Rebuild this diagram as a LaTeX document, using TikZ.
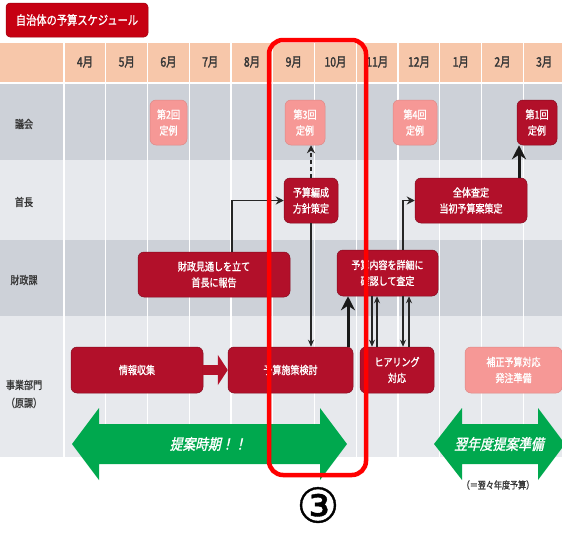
\documentclass[tikz,border=0pt]{standalone}
\usepackage{fontspec}
\newfontfamily\jp{Noto Sans CJK JP}[FakeStretch=0.82]
\newfontfamily\jpb{Noto Sans CJK JP}[FakeStretch=0.82,FakeBold=1.2]
\newfontfamily\jpm{Noto Sans CJK JP}[FakeStretch=0.8,FakeBold=2]
\newfontfamily\jpi{Noto Sans CJK JP}[FakeStretch=0.85,FakeSlant=0.22,FakeBold=1.4]
\newfontfamily\symf{DejaVu Sans}[FakeBold=0.8]
\usetikzlibrary{arrows.meta,calc}

\definecolor{boxred}{RGB}{178,16,42}
\definecolor{palered}{RGB}{246,152,150}
\definecolor{titlered}{RGB}{198,0,18}
\definecolor{peach}{RGB}{247,199,170}
\definecolor{rowdark}{RGB}{205,209,216}
\definecolor{rowlight}{RGB}{231,233,237}
\definecolor{arrowgreen}{RGB}{0,168,78}
\definecolor{labelgray}{RGB}{55,55,55}
\definecolor{markred}{RGB}{255,0,0}

\tikzset{
  task/.style={rounded corners=6pt, fill=boxred, draw=boxred!75!black,
    line width=0.5pt, text=white, align=center, inner sep=0pt,
    font=\jpb\fontsize{11}{16}\selectfont},
  pale/.style={task, fill=palered, draw=palered!90!black},
  month/.style={text=labelgray, font=\jpm\fontsize{13}{13}\selectfont, inner sep=0pt},
  rowlabel/.style={text=labelgray, font=\jpb\fontsize{11}{18}\selectfont, align=center, inner sep=0pt},
  conn/.style={draw=black!85, line width=1.6pt, -{Stealth[length=8pt,width=8pt]}},
  thin conn/.style={draw=black!85, line width=1.1pt, -{Stealth[length=7pt,width=6pt]}},
  thick conn/.style={draw=black!90, line width=3pt, -{Stealth[length=14pt,width=14pt]}},
  greentext/.style={text=white, font=\jpi\fontsize{15}{15}\selectfont, inner sep=0pt},
}

\begin{document}
\begin{tikzpicture}[x=1pt,y=-1pt]
\useasboundingbox (0,0) rectangle (562,533);
\fill[white] (0,0) rectangle (562,533);

% table background: header band and four lanes
\fill[peach] (0,43) rectangle (562,82);
\fill[rowdark] (0,84) rectangle (562,160);
\fill[rowlight] (0,160) rectangle (562,240);
\fill[rowdark] (0,240) rectangle (562,316);
\fill[rowlight] (0,316) rectangle (562,457);
\foreach \k in {0,...,12}
  \draw[white, line width=1.4pt] (64+41.75*\k,43) -- (64+41.75*\k,457);

% title
\node[fill=titlered, draw=titlered!80!black, line width=0.5pt, rounded corners=4pt,
      minimum width=142pt, minimum height=34pt, text=white,
      font=\jpb\fontsize{12.5}{12.5}\selectfont] (title) at (77,20) {自治体の予算スケジュール};

% month headings
\foreach \m [count=\i from 0] in {4月,5月,6月,7月,8月,9月,10月,11月,12月,1月,2月,3月}
  \node[month] (m\i) at (85+41.75*\i,62) {\m};

% lane labels
\node[rowlabel] (lgikai) at (24,124) {議会};
\node[rowlabel] (lshucho) at (24,202) {首長};
\node[rowlabel] (lzaisei) at (24,280) {財政課};
\node[rowlabel] (ljigyo) at (24,394) {事業部門\\（原課）};

% council sessions
\node[pale, minimum width=37pt, minimum height=45pt] (teirei2) at (168.5,122.5) {第2回\\定例};
\node[pale, minimum width=40pt, minimum height=45pt] (teirei3) at (305,122.5) {第3回\\定例};
\node[pale, minimum width=44pt, minimum height=45pt] (teirei4) at (415,122.5) {第4回\\定例};
\node[task, minimum width=40pt, minimum height=45pt] (teirei1) at (537,122.5) {第1回\\定例};

% head of government
\node[task, minimum width=54pt, minimum height=45pt] (hoshin) at (311,200.5) {予算編成\\方針策定};
\node[task, minimum width=112pt, minimum height=45pt] (zentai) at (471,200.5) {全体査定\\当初予算案策定};

% finance division
\node[task, minimum width=152pt, minimum height=45pt] (zaisei) at (214,274.5) {財政見通しを立て\\首長に報告};
\node[task, minimum width=101pt, minimum height=46pt] (satei) at (387.5,273) {予算内容を詳細に\\確認して査定};

% operating departments
\node[task, minimum width=132pt, minimum height=46pt] (joho) at (137,370) {情報収集};
\node[task, minimum width=125pt, minimum height=46pt] (kento) at (290.5,370) {予算施策検討};
\node[task, minimum width=74pt, minimum height=46pt] (hearing) at (397,370) {ヒアリング\\対応};
\node[pale, minimum width=97pt, minimum height=46pt] (hosei) at (513.5,370) {補正予算対応\\発注準備};

% flow between tasks
\draw[boxred, line width=10pt, -{Triangle[length=10pt,width=30pt]}] (joho.east) -- (kento.west);
\draw[conn] ([xshift=18pt]zaisei.north) |- (hoshin.west);
\draw[conn, dash pattern=on 4pt off 3pt] (hoshin.north) -- (hoshin.north |- teirei3.south);
\draw[thin conn] (hoshin.south) -- (hoshin.south |- kento.north);
\draw[thick conn] ([xshift=57.5pt]kento.north) -- ([xshift=57.5pt]kento.north |- satei.south);
\draw[thin conn] ([xshift=-15.5pt]satei.south) -- ([xshift=-15.5pt]satei.south |- hearing.north);
\draw[thin conn] ([xshift=-10.5pt]satei.south |- hearing.north) -- ([xshift=-10.5pt]satei.south);
\draw[thin conn] ([xshift=15.5pt]satei.south) -- ([xshift=15.5pt]satei.south |- hearing.north);
\draw[thin conn] ([xshift=21.5pt]satei.south |- hearing.north) -- ([xshift=21.5pt]satei.south);
\draw[conn] ([xshift=15.5pt]satei.north) |- (zentai.west);
\draw[thick conn] ([xshift=48pt]zentai.north) -- ([xshift=48pt]zentai.north |- teirei1.south);

% proposal periods
\fill[arrowgreen] (72,444) -- (99,408) -- (99,424) -- (320,424) -- (320,408) -- (347,444)
  -- (320,480) -- (320,464) -- (99,464) -- (99,480) -- cycle;
\node[greentext] (teian) at (208,444) {提案時期！！};
\fill[arrowgreen] (434,444) -- (462,408) -- (462,424) -- (538,424) -- (538,408) -- (565,444)
  -- (538,480) -- (538,464) -- (462,464) -- (462,480) -- cycle;
\node[greentext] (yokunen) at (499,444) {翌年度提案準備};
\node[text=labelgray, font=\jpb\fontsize{9.8}{9.8}\selectfont, inner sep=0pt] (yokuyoku) at (498,485) {（＝翌々年度予算）};

% highlighted period
\node[draw=markred, line width=4.5pt, rounded corners=14pt,
      minimum width=97pt, minimum height=435pt, inner sep=0pt] (focus) at (317.5,257.5) {};
\node[font=\symf\fontsize{48}{48}\selectfont, inner sep=0pt] (num) at (318,505) {③};
\end{tikzpicture}
\end{document}
